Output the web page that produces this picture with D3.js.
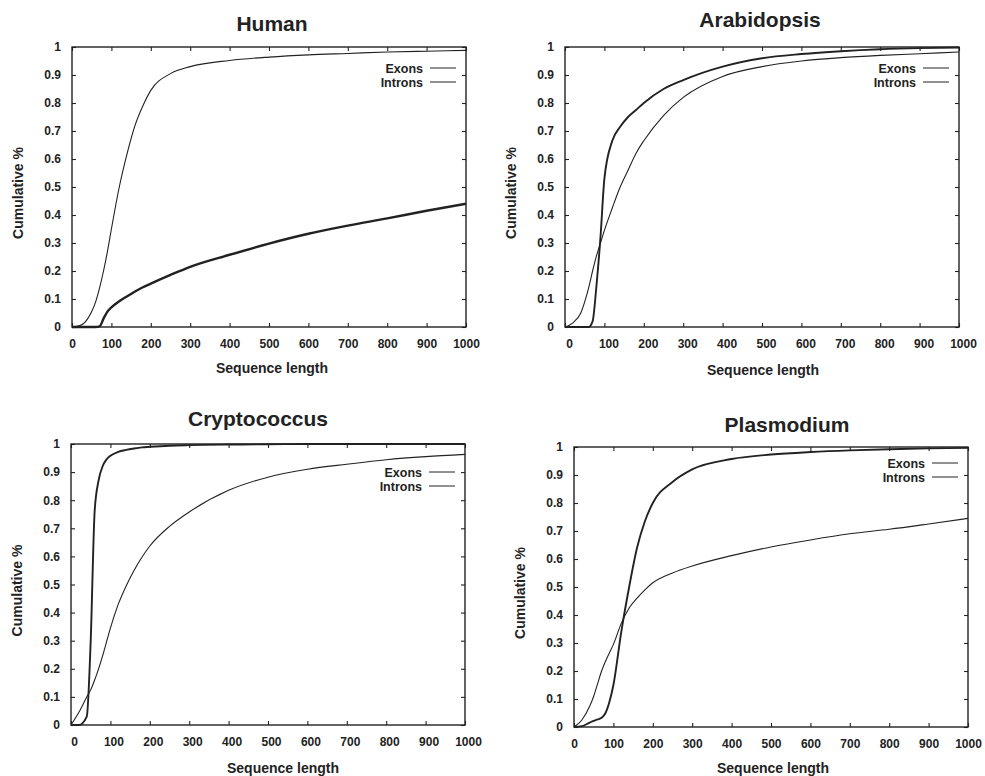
<!DOCTYPE html>
<html>
  <head>
    <style>
    body {
      margin: 0px;
      background: white;
    }
    text {
      font-family: "Liberation Sans", Arial, sans-serif;
      fill: #222;
    }
    </style>
  </head>
  <body>
    <div id="elm"></div>

    <script src="https://d3js.org/d3.v7.min.js"></script>
    <script>

    'use strict';

    // sequence lengths the curves were read at
    var lengths = [0, 20, 40, 50, 60, 70, 80, 90, 100, 120, 140, 160, 180, 200, 250, 300, 400, 500, 600, 700, 800, 900, 1000];

    var humanExons = [0, 0.005, 0.03, 0.055, 0.09, 0.14, 0.2, 0.27, 0.35, 0.5, 0.62, 0.72, 0.79, 0.845, 0.905, 0.93, 0.952, 0.964, 0.972, 0.977, 0.982, 0.985, 0.988];
    var humanIntrons = [0, 0, 0, 0, 0, 0.002, 0.03, 0.055, 0.07, 0.092, 0.11, 0.127, 0.142, 0.155, 0.186, 0.215, 0.258, 0.298, 0.333, 0.362, 0.388, 0.415, 0.44];

    var arabidopsisExons = [0, 0.015, 0.05, 0.09, 0.14, 0.2, 0.255, 0.3, 0.345, 0.425, 0.5, 0.56, 0.62, 0.665, 0.755, 0.82, 0.895, 0.93, 0.95, 0.962, 0.97, 0.976, 0.982];
    var arabidopsisIntrons = [0, 0, 0, 0, 0, 0.02, 0.15, 0.32, 0.53, 0.665, 0.715, 0.75, 0.775, 0.8, 0.85, 0.882, 0.93, 0.96, 0.975, 0.985, 0.992, 0.996, 0.998];

    var cryptococcusExons = [0, 0.045, 0.1, 0.125, 0.16, 0.2, 0.245, 0.295, 0.345, 0.43, 0.495, 0.55, 0.597, 0.637, 0.707, 0.758, 0.835, 0.882, 0.91, 0.928, 0.944, 0.955, 0.963];
    var cryptococcusIntrons = [0, 0, 0.03, 0.3, 0.76, 0.87, 0.92, 0.945, 0.958, 0.972, 0.979, 0.984, 0.988, 0.99, 0.994, 0.996, 0.998, 0.999, 1, 1, 1, 1, 1];

    var plasmodiumExons = [0, 0.025, 0.075, 0.11, 0.155, 0.2, 0.235, 0.265, 0.295, 0.37, 0.425, 0.46, 0.49, 0.515, 0.55, 0.575, 0.612, 0.643, 0.668, 0.69, 0.706, 0.725, 0.745];
    var plasmodiumIntrons = [0, 0.003, 0.016, 0.022, 0.027, 0.033, 0.05, 0.09, 0.15, 0.34, 0.5, 0.64, 0.735, 0.8, 0.875, 0.92, 0.957, 0.973, 0.982, 0.988, 0.992, 0.995, 0.997];

    var species = ['Human', 'Arabidopsis', 'Cryptococcus', 'Plasmodium'];
    var seriesNames = ['Exons', 'Introns'];
    var xTicks = [0, 100, 200, 300, 400, 500, 600, 700, 800, 900, 1000];
    var yTicks = [0, 0.1, 0.2, 0.3, 0.4, 0.5, 0.6, 0.7, 0.8, 0.9, 1];

    var exons = [humanExons, arabidopsisExons, cryptococcusExons, plasmodiumExons];
    var introns = [humanIntrons, arabidopsisIntrons, cryptococcusIntrons, plasmodiumIntrons];

    // frame of every panel, as it sits in the picture
    var panels = [
      { x0: 72,  x1: 466, y0: 47,  y1: 327, titleX: 272, titleY: 31,  legDy: 21, labDx: 0, xlabDx: 3,  xlabY: 373, intronW: 2.4 },
      { x0: 565, x1: 959, y0: 47,  y1: 327, titleX: 760, titleY: 27,  legDy: 21, labDx: 4, xlabDx: 1,  xlabY: 375, intronW: 1.9 },
      { x0: 71,  x1: 465, y0: 444, y1: 725, titleX: 258, titleY: 426, legDy: 28, labDx: 3, xlabDx: 15, xlabY: 773, intronW: 1.9 },
      { x0: 574, x1: 968, y0: 447, y1: 727, titleX: 787, titleY: 432, legDy: 16, labDx: 0, xlabDx: 2,  xlabY: 773, intronW: 1.9 }
    ];

    var W = 985, H = 776;
    var ink = '#222';

    var svg = d3.select('#elm').append('svg')
      .attr('width', W)
      .attr('height', H);

    species.forEach(function(name, i) {
      var p = panels[i];
      var x = d3.scaleLinear().domain([0, 1000]).range([p.x0, p.x1]);
      var y = d3.scaleLinear().domain([0, 1]).range([p.y1, p.y0]);
      var g = svg.append('g');

      // inward ticks on all four sides, gnuplot style
      var bottom = g.append('g')
        .attr('transform', 'translate(0,' + p.y1 + ')')
        .call(d3.axisBottom(x).tickValues(xTicks).tickSize(-4).tickPadding(12).tickFormat(d3.format('d')));
      bottom.selectAll('text').attr('dx', p.labDx);

      g.append('g')
        .attr('transform', 'translate(0,' + p.y0 + ')')
        .call(d3.axisTop(x).tickValues(xTicks).tickSize(-4).tickFormat(''));

      g.append('g')
        .attr('transform', 'translate(' + p.x0 + ',0)')
        .call(d3.axisLeft(y).tickValues(yTicks).tickSize(-4).tickPadding(11).tickFormat(d3.format('~g')));

      g.append('g')
        .attr('transform', 'translate(' + p.x1 + ',0)')
        .call(d3.axisRight(y).tickValues(yTicks).tickSize(-4).tickFormat(''));

      g.selectAll('.domain').remove();
      g.selectAll('.tick line').attr('stroke', ink).attr('stroke-width', 1.1);
      g.selectAll('.tick text')
        .style('font-family', '"Liberation Sans", Arial, sans-serif')
        .style('font-size', '12px')
        .style('font-weight', 'bold')
        .attr('fill', ink);

      var line = d3.line()
        .x(function(d, k) { return x(lengths[k]); })
        .y(function(d) { return y(d); })
        .curve(d3.curveMonotoneX);

      g.append('path')
        .attr('d', line(exons[i]))
        .attr('fill', 'none')
        .attr('stroke', ink)
        .attr('stroke-width', 1.1);

      g.append('path')
        .attr('d', line(introns[i]))
        .attr('fill', 'none')
        .attr('stroke', ink)
        .attr('stroke-width', p.intronW)
        .attr('stroke-linejoin', 'round');

      g.append('rect')
        .attr('x', p.x0).attr('y', p.y0)
        .attr('width', p.x1 - p.x0).attr('height', p.y1 - p.y0)
        .attr('fill', 'none')
        .attr('stroke', ink)
        .attr('stroke-width', 1.4);

      // legend
      seriesNames.forEach(function(s, k) {
        var ly = p.y0 + p.legDy + k * 14;
        g.append('text')
          .attr('x', p.x1 - 43).attr('y', ly + 4.5)
          .attr('text-anchor', 'end')
          .style('font-size', '12.5px')
          .style('font-weight', 'bold')
          .text(s);
        g.append('line')
          .attr('x1', p.x1 - 36).attr('x2', p.x1 - 10)
          .attr('y1', ly).attr('y2', ly)
          .attr('stroke', ink)
          .attr('stroke-width', 1);
      });

      g.append('text')
        .attr('x', p.titleX).attr('y', p.titleY)
        .attr('text-anchor', 'middle')
        .style('font-size', '21px')
        .style('font-weight', 'bold')
        .text(name);

      g.append('text')
        .attr('x', (p.x0 + p.x1) / 2 + p.xlabDx).attr('y', p.xlabY)
        .attr('text-anchor', 'middle')
        .style('font-size', '14px')
        .style('font-weight', 'bold')
        .text('Sequence length');

      g.append('text')
        .attr('transform', 'translate(' + (p.x0 - 49) + ',' + ((p.y0 + p.y1) / 2 + 6) + ') rotate(-90)')
        .attr('text-anchor', 'middle')
        .style('font-size', '14px')
        .style('font-weight', 'bold')
        .text('Cumulative %');
    });
    </script>
  </body>
</html>
